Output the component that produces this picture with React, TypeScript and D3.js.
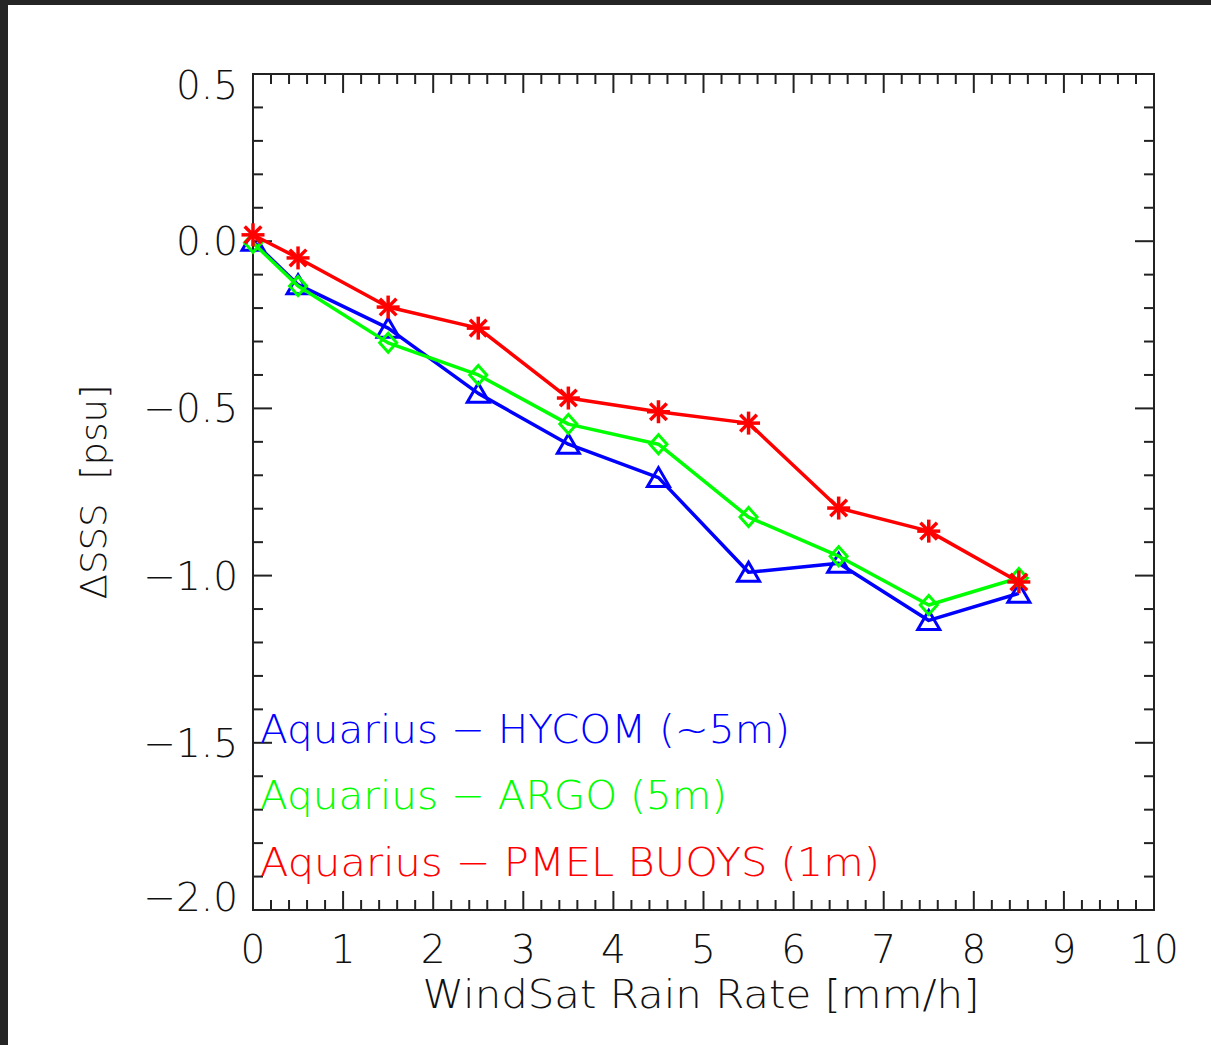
import React from "react";
import * as d3 from "d3";

const rainRate = [0, 0.5, 1.5, 2.5, 3.5, 4.5, 5.5, 6.5, 7.5, 8.5];
const hycom = [0.0, -0.13, -0.26, -0.455, -0.607, -0.707, -0.99, -0.963, -1.134, -1.053];
const argo = [-0.005, -0.134, -0.304, -0.4, -0.547, -0.607, -0.825, -0.942, -1.088, -1.007];
const pmel = [0.019, -0.05, -0.197, -0.26, -0.469, -0.51, -0.544, -0.798, -0.867, -1.019];

const xTicks = [0, 1, 2, 3, 4, 5, 6, 7, 8, 9, 10];
const yTicks = [0.5, 0.0, -0.5, -1.0, -1.5, -2.0];
const legendLabels = [
  "Aquarius \u2212 HYCOM (~5m)",
  "Aquarius \u2212 ARGO (5m)",
  "Aquarius \u2212 PMEL BUOYS (1m)",
];
const xTitle = "WindSat Rain Rate [mm/h]";
const yTitle = "\u0394SSS  [psu]";

const W = 1211;
const H = 1045;
const L = 253, R = 1154, T = 74, B = 910;
const FONT = "'DejaVu Sans', sans-serif";
const AX = "#222";

const x = d3.scaleLinear().domain([0, 10]).range([L, R]);
const y = d3.scaleLinear().domain([-2, 0.5]).range([B, T]);

type Series = { name: string; values: number[]; color: string; marker: "tri" | "dia" | "ast" };
const series: Series[] = [
  { name: legendLabels[0], values: hycom, color: "#0000ff", marker: "tri" },
  { name: legendLabels[1], values: argo, color: "#00ff00", marker: "dia" },
  { name: legendLabels[2], values: pmel, color: "#ff0000", marker: "ast" },
];
const legendWidths = [530, 467, 620];
const legendBaselines = [743, 809, 876];

function Marker({ kind, cx, cy, color }: { kind: string; cx: number; cy: number; color: string }) {
  if (kind === "tri") {
    const p = `${cx - 11},${cy + 9} ${cx},${cy - 10} ${cx + 11},${cy + 9}`;
    return <polygon points={p} fill="none" stroke={color} strokeWidth={3} />;
  }
  if (kind === "dia") {
    const p = `${cx},${cy - 9.5} ${cx + 8.5},${cy} ${cx},${cy + 9.5} ${cx - 8.5},${cy}`;
    return <polygon points={p} fill="none" stroke={color} strokeWidth={3} />;
  }
  const r = 11.5;
  const d = 8.3;
  return (
    <g stroke={color} strokeWidth={3.5}>
      <line x1={cx - r} y1={cy} x2={cx + r} y2={cy} />
      <line x1={cx} y1={cy - r} x2={cx} y2={cy + r} />
      <line x1={cx - d} y1={cy - d} x2={cx + d} y2={cy + d} />
      <line x1={cx - d} y1={cy + d} x2={cx + d} y2={cy - d} />
    </g>
  );
}

export default function App() {
  const line = d3
    .line<number>()
    .x((_, i) => x(rainRate[i]))
    .y((v) => y(v));

  const xMinor = d3.range(0, 10.001, 0.2);
  const yMinor = d3.range(-2, 0.5001, 0.1);
  const fmtY = (v: number) => (v < 0 ? "\u2212" : "") + Math.abs(v).toFixed(1);

  return (
    <div style={{ position: "absolute", left: 0, top: 0 }}>
      <svg width={W} height={H} style={{ display: "block" }} fontFamily={FONT} fontWeight={300}>
        <rect x={0} y={0} width={W} height={H} fill="#fff" />
        <rect x={0} y={0} width={W} height={5} fill="#252525" />
        <rect x={0} y={0} width={8} height={H} fill="#252525" />

        {/* ticks */}
        <g stroke={AX} strokeWidth={2}>
          {xMinor.map((v, i) => {
            const major = Math.abs(v - Math.round(v)) < 1e-6;
            const len = major ? 19 : 10;
            return (
              <g key={"xm" + i}>
                <line x1={x(v)} x2={x(v)} y1={B} y2={B - len} />
                <line x1={x(v)} x2={x(v)} y1={T} y2={T + len} />
              </g>
            );
          })}
          {yMinor.map((v, i) => {
            const major = Math.abs(v * 2 - Math.round(v * 2)) < 1e-6;
            const len = major ? 19 : 10;
            return (
              <g key={"ym" + i}>
                <line x1={L} x2={L + len} y1={y(v)} y2={y(v)} />
                <line x1={R} x2={R - len} y1={y(v)} y2={y(v)} />
              </g>
            );
          })}
        </g>
        <rect x={L} y={T} width={R - L} height={B - T} fill="none" stroke={AX} strokeWidth={2} />

        {/* tick labels */}
        <g fontSize={39} fill="#111">
          {xTicks.map((v) => (
            <text key={"xt" + v} x={x(v)} y={963} textAnchor="middle">
              {String(v)}
            </text>
          ))}
          {yTicks.map((v) => {
            const cy = Math.min(Math.max(y(v), T + 11), B - 13);
            return (
              <text key={"yt" + v} x={238} y={cy + 14} textAnchor="end">
                {fmtY(v)}
              </text>
            );
          })}
        </g>

        {/* axis titles */}
        <text x={701} y={1008} fontSize={39} textAnchor="middle" fill="#111" textLength={557} lengthAdjust="spacingAndGlyphs">
          {xTitle}
        </text>
        <text
          transform={`translate(106,${(T + B) / 2}) rotate(-90)`}
          fontSize={36}
          textAnchor="middle"
          fill="#111"
          textLength={215}
          lengthAdjust="spacingAndGlyphs"
          style={{ whiteSpace: "pre" }}
        >
          {yTitle}
        </text>

        {/* series */}
        {series.map((s) => (
          <g key={s.name}>
            <path d={line(s.values) || ""} fill="none" stroke={s.color} strokeWidth={3.5} strokeLinejoin="round" />
            {s.values.map((v, i) => (
              <Marker key={i} kind={s.marker} cx={x(rainRate[i])} cy={y(v)} color={s.color} />
            ))}
          </g>
        ))}

        {/* legend */}
        {series.map((s, i) => (
          <text
            key={"lg" + i}
            x={260}
            y={legendBaselines[i]}
            fontSize={39}
            fill={s.color}
            textLength={legendWidths[i]}
            lengthAdjust="spacingAndGlyphs"
            style={{ whiteSpace: "pre" }}
          >
            {s.name}
          </text>
        ))}
      </svg>
    </div>
  );
}
